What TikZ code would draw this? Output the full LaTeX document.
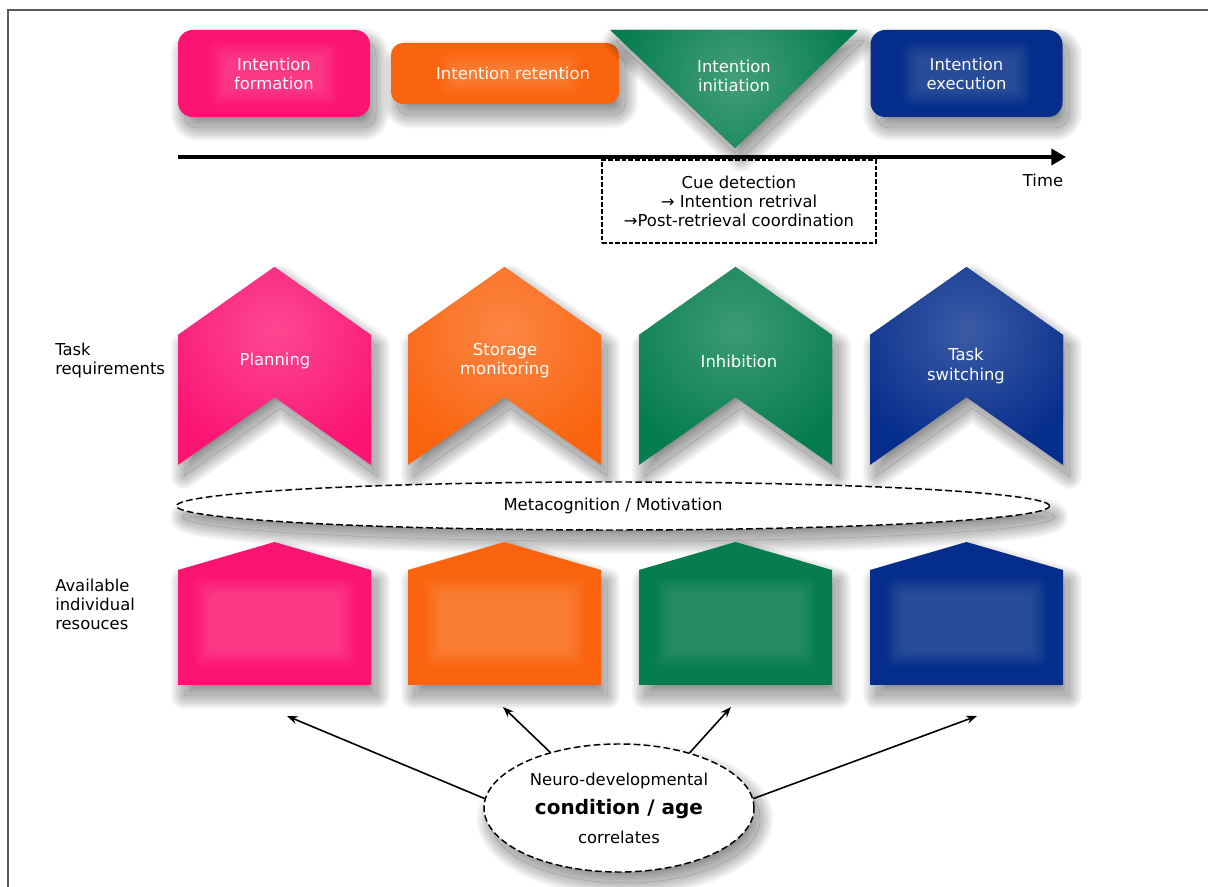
\documentclass[tikz,border=0pt]{standalone}
\usepackage{fontspec}
\setmainfont{DejaVu Sans}
\usetikzlibrary{shapes.geometric,arrows.meta}
\definecolor{cpink}{RGB}{252,20,115}
\definecolor{corange}{RGB}{250,100,15}
\definecolor{cgreen}{RGB}{5,125,78}
\definecolor{cblue}{RGB}{5,45,140}
\definecolor{frameg}{RGB}{90,90,90}
\tikzset{
  wtext/.style={text=white, font=\fontsize{12.3}{14.3}\selectfont, align=center},
  btext/.style={text=black, font=\fontsize{12.3}{14.3}\selectfont, align=center},
  topbox/.style={rounded corners=11pt, inner sep=0pt, minimum width=144pt, minimum height=65.25pt, wtext},
  dsh/.style={dash pattern=on 3.5pt off 1.5pt, line width=1.1pt},
  edsh/.style={dash pattern=on 5pt off 2.5pt, line width=1.1pt},
  conn/.style={line width=1.2pt, -{Stealth[length=8pt,width=6pt]}},
  timeline/.style={line width=3pt, -{Triangle[length=11pt,width=12pt]}},
  sidelabel/.style={btext, anchor=west, align=left, inner sep=0pt},
}
% soft drop shadow: translucent core, lightened towards its rim inside, fading outside
\newcommand\shadowpath[2][]{%
  \begin{scope}[shift={(6,11)},#1]
    \fill[black, opacity=0.5] #2;
    \begin{scope}
      \clip #2;
      \foreach \k in {1,...,10}{\draw[white, opacity=0.067, line width={\k*2pt}, line join=round] #2;}
    \end{scope}
    \begin{scope}[even odd rule]
      \clip (-200,-200) rectangle (1500,1200) #2;
      \foreach \k in {1,...,10}{\draw[black, opacity=0.028, line width={\k*2pt}, line join=round] #2;}
    \end{scope}
  \end{scope}}
\newcommand\softglow[4]{\foreach \k in {0,...,11}{\fill[white,opacity=0.015,rounded corners=5pt] ({#1+\k*1.5},{#2+\k*1.5}) rectangle ({#3-\k*1.5},{#4-\k*1.5});}}
\newcommand\chevronshape[2]{%
  \shadowpath{(#1,335) -- ({#1+96.5},267) -- ({#1+193},335) -- ({#1+193},465) -- ({#1+96.5},397) -- (#1,465) -- cycle}
  \fill[#2] (#1,335) -- ({#1+96.5},267) -- ({#1+193},335) -- ({#1+193},465) -- ({#1+96.5},397) -- (#1,465) -- cycle;
  \begin{scope}
    \clip (#1,335) -- ({#1+96.5},267) -- ({#1+193},335) -- ({#1+193},465) -- ({#1+96.5},397) -- (#1,465) -- cycle;
    \shade[inner color=#2!78!white, outer color=#2] ({#1+96.5},330) circle (130);
  \end{scope}}
\newcommand\houseshape[2]{%
  \shadowpath{(#1,570) -- ({#1+96.5},542) -- ({#1+193},570) -- ({#1+193},685) -- (#1,685) -- cycle}
  \fill[#2] (#1,570) -- ({#1+96.5},542) -- ({#1+193},570) -- ({#1+193},685) -- (#1,685) -- cycle;
  \softglow{#1+16}{578}{#1+177}{667}}
\begin{document}
\begin{tikzpicture}[x=0.75pt, y=-0.75pt]
\useasboundingbox (0,0) rectangle (1208,887);
\fill[white] (0,0) rectangle (1208,887);
\draw[frameg, line width=1.4pt] (8,887) -- (8,10) -- (1208,10);

% top row
\shadowpath[rounded corners=11pt]{(178,30) rectangle (370,117)}
\node[topbox, fill=cpink] (form) at (274,73.5) {Intention\\formation};
\softglow{210}{42}{338}{106}
\shadowpath[rounded corners=9pt]{(391,43) rectangle (619,104)}
\node[topbox, fill=corange, rounded corners=9pt, minimum width=171pt, minimum height=45.75pt, text width=171pt] (ret) at (505,73.5) {\hspace*{12pt}Intention retention};
\softglow{440}{52}{580}{96}
\shadowpath{(610,30) -- (858,30) -- (735,148) -- cycle}
\fill[cgreen] (610,30) -- (858,30) -- (735,148) -- cycle;
\begin{scope}
  \clip (610,30) -- (858,30) -- (735,148) -- cycle;
  \shade[inner color=cgreen!75!white, outer color=cgreen] (735,78) circle (120);
\end{scope}
\node[wtext] (init) at (734,75.5) {Intention\\initiation};
\shadowpath[rounded corners=11pt]{(870,30) rectangle (1063,117)}
\node[topbox, fill=cblue] (exec) at (966.5,73.5) {Intention\\execution};
\softglow{902}{42}{1031}{106}

% timeline
\coordinate (t0) at (178,157);
\coordinate (t1) at (1066,157);
\draw[timeline] (t0) -- (t1);
\node[btext] (time) at (1043,180) {Time};
\node[draw, dsh, minimum width=205.5pt, minimum height=62.25pt, inner sep=0pt, btext] (cue) at (739,201.5) {Cue detection\\→ Intention retrival\\→Post-retrieval coordination};

% task requirements
\node[sidelabel] (taskreq) at (55,360.5) {Task\\requirements};
\chevronshape{178}{cpink}
\chevronshape{408}{corange}
\chevronshape{639}{cgreen}
\chevronshape{870}{cblue}
\node[wtext] (plan) at (275,361) {Planning};
\node[wtext] (stor) at (505,360.5) {Storage\\monitoring};
\node[wtext] (inhib) at (739,361) {Inhibition};
\node[wtext] (switch) at (966,366) {Task\\switching};

% metacognition
\shadowpath{(613,506) ellipse (436 and 24)}
\node[ellipse, draw, edsh, fill=white, minimum width=654.75pt, minimum height=36pt, inner sep=0pt, btext] (meta) at (613,506) {Metacognition / Motivation};

% resources
\node[sidelabel] (avail) at (55,604) {Available\\individual\\resouces};
\houseshape{178}{cpink}
\houseshape{408}{corange}
\houseshape{639}{cgreen}
\houseshape{870}{cblue}

% condition
\shadowpath{(619,808) ellipse (135 and 64)}
\node[ellipse, draw, edsh, fill=white, minimum width=202.5pt, minimum height=96pt, inner sep=0pt, btext] (cond) at (619,808) {Neuro-developmental\\[8pt]{\fontsize{15}{18}\selectfont\bfseries condition / age}\\[7pt]correlates};
\coordinate (a1) at (287,716);
\coordinate (a2) at (503,707);
\coordinate (a3) at (731,707);
\coordinate (a4) at (977,716);
\draw[conn] (cond.176.6) -- (a1);
\draw[conn] (cond.141) -- (a2);
\draw[conn] (cond.38) -- (a3);
\draw[conn] (cond.4) -- (a4);
\end{tikzpicture}
\end{document}
